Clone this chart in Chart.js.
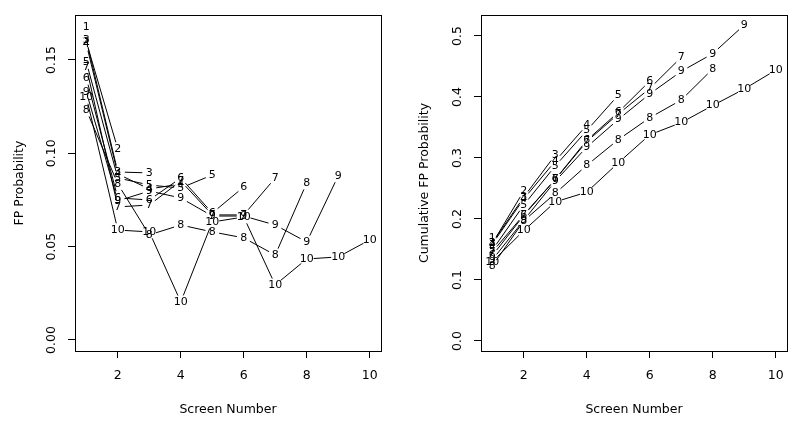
<!DOCTYPE html>
<html>
<head>
<meta charset="utf-8">
<script src="https://cdn.jsdelivr.net/npm/chart.js@4"></script>
<style>
  html, body { margin: 0; padding: 0; background: #fff; }
  #wrap { position: relative; width: 800px; height: 426px; }
  canvas { position: absolute; top: 0; }
  #fpChart { left: 0; }
  #cumChart { left: 400px; }
</style>
</head>
<body>
<div id="wrap">
  <canvas id="fpChart" width="400" height="426"></canvas>
  <canvas id="cumChart" width="400" height="426"></canvas>
</div>
<script>
// screen numbers (x axis)
const screens = [1, 2, 3, 4, 5, 6, 7, 8, 9, 10];

// FP probability per screen, one array per run length (left panel)
const fp1 = [0.1677];
const fp2 = [0.1597, 0.1023];
const fp3 = [0.1607, 0.0900, 0.0895];
const fp4 = [0.1586, 0.0889, 0.0809, 0.0836];
const fp5 = [0.1489, 0.0868, 0.0830, 0.0814, 0.0884];
const fp6 = [0.1404, 0.0761, 0.0750, 0.0868, 0.0680, 0.0820];
const fp7 = [0.1463, 0.0713, 0.0723, 0.0852, 0.0670, 0.0670, 0.0868];
const fp8 = [0.1232, 0.0836, 0.0563, 0.0616, 0.0579, 0.0547, 0.0455, 0.0841];
const fp9 = [0.1329, 0.0745, 0.0798, 0.0761, 0.0664, 0.0664, 0.0616, 0.0525, 0.0879];
const fp10 = [0.1302, 0.0589, 0.0579, 0.0204, 0.0632, 0.0659, 0.0295, 0.0434, 0.0445, 0.0536];

// cumulative FP probability (right panel)
const cum1 = [0.168];
const cum2 = [0.160, 0.246];
const cum3 = [0.161, 0.236, 0.305];
const cum4 = [0.159, 0.233, 0.295, 0.354];
const cum5 = [0.149, 0.223, 0.287, 0.345, 0.403];
const cum6 = [0.140, 0.206, 0.265, 0.329, 0.375, 0.426];
const cum7 = [0.146, 0.207, 0.265, 0.327, 0.372, 0.414, 0.465];
const cum8 = [0.123, 0.197, 0.242, 0.288, 0.330, 0.366, 0.395, 0.446];
const cum9 = [0.133, 0.198, 0.262, 0.318, 0.363, 0.405, 0.442, 0.471, 0.518];
const cum10 = [0.130, 0.181, 0.228, 0.244, 0.292, 0.338, 0.358, 0.386, 0.413, 0.444];

// tick values and labels
const xTicks = [2, 4, 6, 8, 10];
const xTickLabels = ['2', '4', '6', '8', '10'];
const fpTicks = [0, 0.05, 0.10, 0.15];
const fpTickLabels = ['0.00', '0.05', '0.10', '0.15'];
const cumTicks = [0, 0.1, 0.2, 0.3, 0.4, 0.5];
const cumTickLabels = ['0.0', '0.1', '0.2', '0.3', '0.4', '0.5'];

const FONT = 'DejaVu Sans';
const GAP = 7;

// lines with gaps around the number labels (like R type = "b")
const gapLines = {
  id: 'gapLines',
  afterDatasetsDraw(chart) {
    const ctx = chart.ctx;
    ctx.save();
    ctx.strokeStyle = '#000';
    ctx.fillStyle = '#000';
    ctx.lineWidth = 1;
    ctx.font = '11px "' + FONT + '"';
    ctx.textAlign = 'center';
    ctx.textBaseline = 'middle';
    chart.data.datasets.forEach((ds, i) => {
      const pts = chart.getDatasetMeta(i).data;
      for (let k = 1; k < pts.length; k++) {
        const a = pts[k - 1], b = pts[k];
        const dx = b.x - a.x, dy = b.y - a.y;
        const d = Math.hypot(dx, dy);
        if (d <= 2 * GAP) continue;
        const ux = dx / d, uy = dy / d;
        ctx.beginPath();
        ctx.moveTo(a.x + ux * GAP, a.y + uy * GAP);
        ctx.lineTo(b.x - ux * GAP, b.y - uy * GAP);
        ctx.stroke();
      }
      pts.forEach(p => ctx.fillText(ds.label, p.x, p.y));
    });
    ctx.restore();
  }
};

// box around the plot + rotated y tick labels
const boxAndY = {
  id: 'boxAndY',
  afterDraw(chart) {
    const ctx = chart.ctx;
    const a = chart.chartArea;
    const ys = chart.scales.y;
    const labels = chart.options.plugins.boxAndY.labels;
    ctx.save();
    ctx.strokeStyle = '#000';
    ctx.lineWidth = 1;
    ctx.strokeRect(Math.round(a.left) + 0.5, Math.round(a.top) + 0.5,
      Math.round(a.right - a.left), Math.round(a.bottom - a.top));
    ctx.fillStyle = '#000';
    ctx.font = '12.5px "' + FONT + '"';
    ctx.textAlign = 'center';
    ctx.textBaseline = 'middle';
    ys.ticks.forEach((t, i) => {
      ctx.save();
      ctx.translate(a.left - 23, ys.getPixelForValue(t.value));
      ctx.rotate(-Math.PI / 2);
      ctx.fillText(labels[i], 0, 0);
      ctx.restore();
    });
    ctx.restore();
  }
};

function makeChart(id, series, yMin, yMax, yTicks, yTickLabels, yTitle, leftW, rightPad, yTitlePad) {
  const datasets = series.map((arr, i) => ({
    label: String(i + 1),
    data: arr.map((v, j) => ({ x: screens[j], y: v })),
    showLine: false,
    pointRadius: 0,
    pointHoverRadius: 0
  }));
  return new Chart(document.getElementById(id), {
    type: 'scatter',
    data: { datasets: datasets },
    plugins: [gapLines, boxAndY],
    options: {
      responsive: false,
      animation: false,
      events: [],
      layout: { padding: { top: 15, right: rightPad, left: 0, bottom: 0 } },
      plugins: {
        legend: { display: false },
        tooltip: { enabled: false },
        boxAndY: { labels: yTickLabels }
      },
      scales: {
        x: {
          type: 'linear',
          min: 0.64,
          max: 10.36,
          afterBuildTicks: s => { s.ticks = xTicks.map(v => ({ value: v })); },
          afterFit: s => { s.height = 75; },
          border: { display: false },
          grid: { drawOnChartArea: false, drawTicks: true, tickLength: 7, color: '#000', lineWidth: 1 },
          ticks: {
            color: '#000',
            font: { family: FONT, size: 12.5 },
            padding: 10,
            maxRotation: 0,
            autoSkip: false,
            callback: (v, i) => xTickLabels[i]
          },
          title: {
            display: true,
            text: 'Screen Number',
            color: '#000',
            font: { family: FONT, size: 12.5 },
            padding: { top: 0, bottom: 8.5 }
          }
        },
        y: {
          type: 'linear',
          min: yMin,
          max: yMax,
          afterBuildTicks: s => { s.ticks = yTicks.map(v => ({ value: v })); },
          afterFit: s => { s.width = leftW; },
          border: { display: false },
          grid: { drawOnChartArea: false, drawTicks: true, tickLength: 7, color: '#000', lineWidth: 1 },
          ticks: { display: false },
          title: {
            display: true,
            text: yTitle,
            color: '#000',
            font: { family: FONT, size: 12.5 },
            padding: { top: yTitlePad, bottom: 0 }
          }
        }
      }
    }
  });
}

makeChart('fpChart', [fp1, fp2, fp3, fp4, fp5, fp6, fp7, fp8, fp9, fp10],
  -0.0059, 0.1741, fpTicks, fpTickLabels, 'FP Probability', 75, 19, 12);
makeChart('cumChart', [cum1, cum2, cum3, cum4, cum5, cum6, cum7, cum8, cum9, cum10],
  -0.0164, 0.5344, cumTicks, cumTickLabels, 'Cumulative FP Probability', 81, 13, 17.5);
</script>
</body>
</html>
